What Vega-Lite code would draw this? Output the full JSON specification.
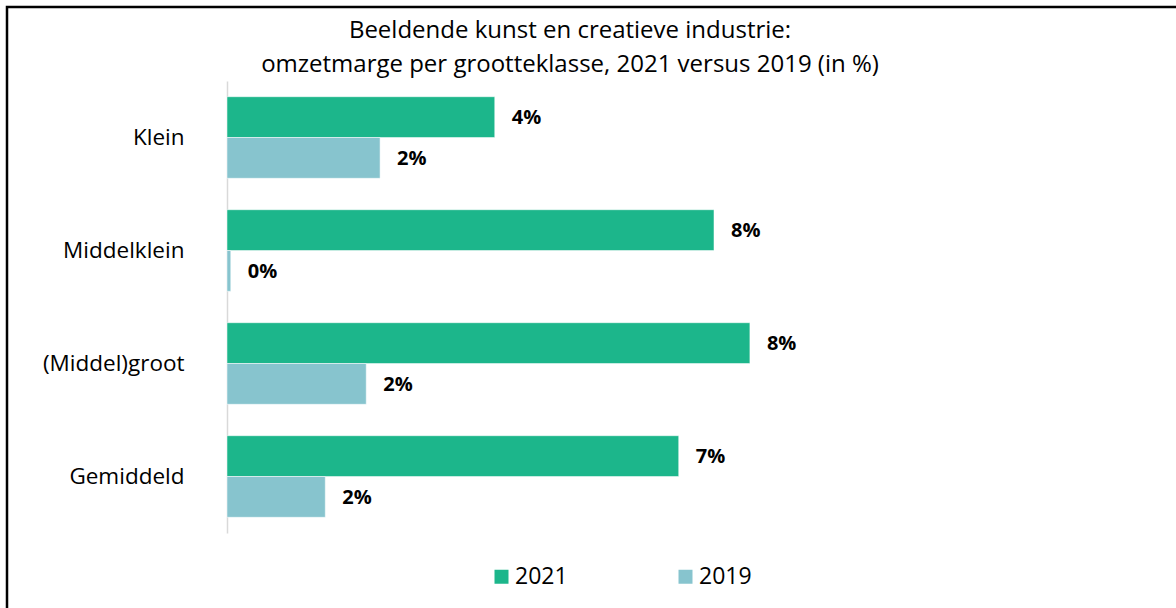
{
  "$schema": "https://vega.github.io/schema/vega-lite/v6.json",
  "width": 1180,
  "height": 610,
  "autosize": {"type": "none"},
  "padding": {"left": 7, "top": 7, "right": 0, "bottom": 0},
  "background": "white",
  "title": {
    "text": ["Beeldende kunst en creatieve industrie:", "omzetmarge per grootteklasse, 2021 versus 2019 (in %)"],
    "anchor": "middle",
    "frame": "group",
    "orient": "top",
    "offset": -70,
    "dx": -27,
    "font": "Open Sans",
    "fontSize": 24,
    "fontWeight": "normal",
    "color": "#000000",
    "lineHeight": 34
  },
  "data": {
    "values": [
      {"klasse": "Klein", "jaar": "2021", "waarde": 0.0425},
      {"klasse": "Klein", "jaar": "2019", "waarde": 0.0243},
      {"klasse": "Middelklein", "jaar": "2021", "waarde": 0.0773},
      {"klasse": "Middelklein", "jaar": "2019", "waarde": 0.0006},
      {"klasse": "(Middel)groot", "jaar": "2021", "waarde": 0.0830},
      {"klasse": "(Middel)groot", "jaar": "2019", "waarde": 0.0221},
      {"klasse": "Gemiddeld", "jaar": "2021", "waarde": 0.0717},
      {"klasse": "Gemiddeld", "jaar": "2019", "waarde": 0.0156}
    ]
  },
  "encoding": {
    "y": {
      "field": "klasse",
      "type": "nominal",
      "sort": ["Klein", "Middelklein", "(Middel)groot", "Gemiddeld"],
      "scale": {"range": [74, 526], "paddingInner": 0.278, "paddingOuter": 0.139},
      "axis": {
        "title": null,
        "offset": -220,
        "ticks": false,
        "labelPadding": 43,
        "labelFont": "Open Sans",
        "labelFontSize": 22.5,
        "labelColor": "#000000",
        "domainColor": "#d9d9d9",
        "domainWidth": 1.5,
        "grid": false
      }
    },
    "yOffset": {
      "field": "jaar",
      "type": "nominal",
      "sort": ["2021", "2019"],
      "scale": {"paddingInner": 0, "paddingOuter": 0}
    },
    "x": {
      "field": "waarde",
      "type": "quantitative",
      "scale": {"domain": [0, 0.1], "range": [220, 850], "nice": false, "zero": false},
      "axis": null
    }
  },
  "layer": [
    {
      "mark": {"type": "bar", "stroke": "white", "strokeWidth": 0.5},
      "encoding": {
        "color": {
          "field": "jaar",
          "type": "nominal",
          "sort": ["2021", "2019"],
          "scale": {"domain": ["2021", "2019"], "range": ["#1cb68b", "#87c4ce"]},
          "legend": {
            "title": null,
            "orient": "none",
            "legendX": 483,
            "legendY": 558,
            "direction": "horizontal",
            "symbolType": "square",
            "symbolSize": 196,
            "symbolStrokeWidth": 0,
            "labelFont": "Open Sans",
            "labelFontSize": 23,
            "labelColor": "#000000",
            "labelOffset": 2,
            "columnPadding": 106,
            "padding": 0
          }
        }
      }
    },
    {
      "mark": {"type": "text", "align": "left", "baseline": "middle", "dx": 17, "dy": 1, "font": "Open Sans", "fontSize": 20, "fontWeight": "bold", "color": "#000000"},
      "encoding": {
        "text": {"field": "waarde", "type": "quantitative", "format": ".0%"}
      }
    }
  ],
  "config": {
    "view": {"stroke": "#000000", "strokeWidth": 2.5}
  }
}
